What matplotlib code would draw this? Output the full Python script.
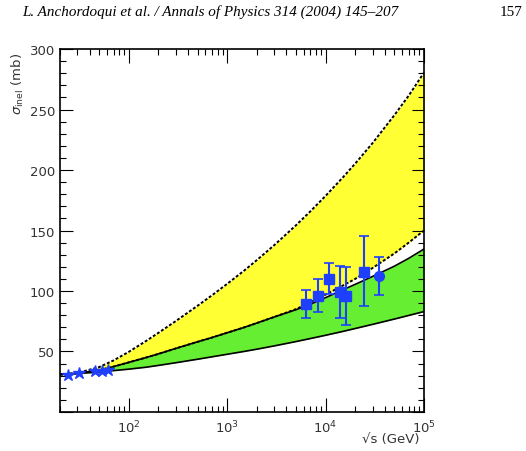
import numpy as np
import matplotlib
matplotlib.use("Agg")
import matplotlib.pyplot as plt
from matplotlib.ticker import MultipleLocator, LogLocator, FuncFormatter, NullFormatter

# sqrt(s) grid (GeV) for the model bands
sqrt_s = [20, 30, 50, 70, 100, 150, 200, 300, 500, 700, 1e3, 1.5e3, 2e3, 3e3,
          5e3, 7e3, 1e4, 1.5e4, 2e4, 3e4, 5e4, 7e4, 1e5]
yellow_hi = [31, 32.2, 37.1, 42.6, 49.7, 58.7, 65.4, 75.1, 87.8, 96.4, 105.9,
             117.1, 125.5, 137.8, 154.3, 165.8, 178.6, 193.9, 205.3, 222.2,
             245.3, 261.5, 280.5]
yellow_lo = [31, 32, 34.5, 37.5, 41, 45, 48, 52.5, 58, 61.5, 65.5, 70, 73.5,
             78.5, 85, 90.5, 97, 104.5, 110, 119, 131, 140, 150]
green_hi = [31, 32, 34.5, 37.5, 41, 45, 48, 52.5, 58, 61.5, 65.5, 70, 73.5,
            78.5, 84.5, 89, 94.5, 101, 105.5, 112, 120.5, 127, 134.7]
green_lo = [31, 31.8, 33, 34.2, 35.4, 37, 38.5, 40.7, 43.6, 45.6, 47.7, 50.1,
            51.9, 54.6, 58.2, 60.7, 63.4, 66.6, 69, 72.4, 76.8, 79.8, 83]

# accelerator data (stars)
acc_x = [24, 31, 45, 53, 62]
acc_y = [30.8, 32.2, 33.9, 33.9, 34.7]

# cosmic ray data (squares)
cr_x = [6340, 8340, 10940, 14120, 16250, 24770]
cr_y = [89.3, 95.9, 110.2, 99.4, 96.1, 116.0]
cr_lo = [77.4, 82.6, 97.8, 77.4, 72.1, 87.4]
cr_hi = [101.1, 109.9, 123.1, 120.9, 120.1, 145.7]

# cosmic ray data (circle)
fe_x = [34900]
fe_y = [112.4]
fe_lo = [96.4]
fe_hi = [127.9]

yellow = "#ffff33"
green = "#66ee33"
blue = "#1f3fff"

fig = plt.figure(figsize=(5.26, 4.52), dpi=100)
ax = fig.add_axes([0.114, 0.0863, 0.692, 0.803])

ax.fill_between(sqrt_s, yellow_lo, yellow_hi, color=yellow, lw=0)
ax.fill_between(sqrt_s, green_lo, green_hi, color=green, lw=0)
ax.plot(sqrt_s, yellow_hi, color="black", lw=1.4, ls=(0, (1.5, 1)))
ax.plot(sqrt_s, yellow_lo, color="black", lw=1.4, ls=(0, (1.5, 1)))
ax.plot(sqrt_s, green_hi, color="black", lw=1.2)
ax.plot(sqrt_s, green_lo, color="black", lw=1.2)

ax.plot(acc_x, acc_y, ls="none", marker="*", ms=9, color=blue, zorder=5)

cr_err = [np.array(cr_y) - np.array(cr_lo), np.array(cr_hi) - np.array(cr_y)]
ax.errorbar(cr_x, cr_y, yerr=cr_err, fmt="s", ms=7, color=blue,
            ecolor=blue, elinewidth=1.5, capsize=3.5, capthick=1.2, zorder=5)
fe_err = [np.array(fe_y) - np.array(fe_lo), np.array(fe_hi) - np.array(fe_y)]
ax.errorbar(fe_x, fe_y, yerr=fe_err, fmt="o", ms=7, color=blue,
            ecolor=blue, elinewidth=1.5, capsize=3.5, capthick=1.2, zorder=5)

ax.set_xscale("log")
ax.set_xlim(20, 1e5)
ax.set_ylim(0, 300)

ax.xaxis.set_major_locator(LogLocator(base=10, numticks=10))
ax.xaxis.set_minor_locator(LogLocator(base=10, subs=np.arange(2, 10), numticks=20))
ax.xaxis.set_minor_formatter(NullFormatter())
ax.yaxis.set_major_locator(MultipleLocator(50))
ax.yaxis.set_minor_locator(MultipleLocator(10))
ax.yaxis.set_major_formatter(FuncFormatter(lambda v, p: "" if v == 0 else "%d" % v))

ax.tick_params(which="both", direction="in", top=True, right=True,
               labelsize=9.5, colors="black", labelcolor="#333333")
ax.tick_params(axis="x", which="major", length=10, width=0.8, pad=5)
ax.tick_params(axis="x", which="minor", length=4.5, width=0.8)
ax.tick_params(axis="y", which="major", length=9, width=0.8)
ax.tick_params(axis="y", which="minor", length=4, width=0.8)
for sp in ax.spines.values():
    sp.set_linewidth(1.2)

fig.text(18 / 526, 1 - 84 / 452, r"$\sigma_{\rm inel}$ (mb)", rotation=90,
         ha="center", va="center", fontsize=9.5, color="#333333")
fig.text(420 / 526, 1 - 440 / 452, "\u221as (GeV)", ha="right", va="center",
         fontsize=9.5, color="#333333")

fig.text(22 / 526, 1 - 12 / 452,
         "L. Anchordoqui et al. / Annals of Physics 314 (2004) 145\u2013207",
         family="Liberation Serif", style="italic", fontsize=10.9,
         ha="left", va="center")
fig.text(522 / 526, 1 - 12 / 452, "157", family="Liberation Serif",
         fontsize=10.9, ha="right", va="center")

fig.savefig("out.png", dpi=100)
